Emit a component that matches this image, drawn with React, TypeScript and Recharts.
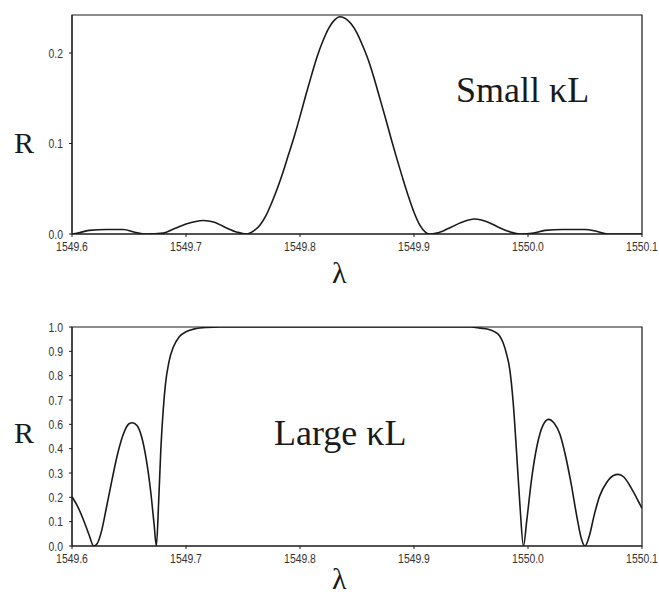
import React from 'react';
import {
  LineChart,
  Line,
  XAxis,
  YAxis,
  ReferenceArea,
} from 'recharts';

// ─── Data ─────────────────────────────────────────────────
const WL_SMALL = [
  1549.600, 1549.605, 1549.615, 1549.630, 1549.645, 1549.655, 1549.665, 1549.680,
  1549.690, 1549.700, 1549.715, 1549.725, 1549.735, 1549.745, 1549.753, 1549.760,
  1549.765, 1549.770, 1549.775, 1549.780, 1549.785, 1549.790, 1549.795, 1549.800,
  1549.805, 1549.810, 1549.815, 1549.820, 1549.825, 1549.830, 1549.835, 1549.840,
  1549.845, 1549.850, 1549.855, 1549.860, 1549.865, 1549.870, 1549.875, 1549.880,
  1549.885, 1549.890, 1549.895, 1549.900, 1549.905, 1549.910, 1549.913, 1549.920,
  1549.930, 1549.942, 1549.953, 1549.965, 1549.975, 1549.985, 1549.993, 1550.005,
  1550.015, 1550.030, 1550.050, 1550.060, 1550.070, 1550.100,
];
const R_SMALL = [
  0.000, 0.001, 0.004, 0.005, 0.005, 0.002, 0.000, 0.001,
  0.006, 0.011, 0.015, 0.013, 0.007, 0.002, 0.000, 0.004,
  0.010, 0.020, 0.034, 0.050, 0.068, 0.088, 0.108, 0.130,
  0.153, 0.175, 0.196, 0.213, 0.227, 0.236, 0.240, 0.238,
  0.232, 0.222, 0.208, 0.192, 0.172, 0.150, 0.128, 0.105,
  0.083, 0.062, 0.042, 0.024, 0.010, 0.002, 0.000, 0.001,
  0.006, 0.013, 0.0165, 0.013, 0.007, 0.002, 0.000, 0.001,
  0.004, 0.005, 0.005, 0.003, 0.000, 0.000,
];

const WL_LARGE = [
  1549.600, 1549.605, 1549.610, 1549.615, 1549.619, 1549.622, 1549.626, 1549.630,
  1549.635, 1549.640, 1549.645, 1549.650, 1549.653, 1549.657, 1549.661, 1549.665,
  1549.669, 1549.672, 1549.674, 1549.676, 1549.678, 1549.680, 1549.682, 1549.685,
  1549.689, 1549.694, 1549.700, 1549.708, 1549.718, 1549.730, 1549.950, 1549.958,
  1549.965, 1549.970, 1549.975, 1549.978, 1549.981, 1549.984, 1549.987, 1549.990,
  1549.993, 1549.996, 1549.999, 1550.003, 1550.008, 1550.013, 1550.018, 1550.023,
  1550.028, 1550.033, 1550.038, 1550.043, 1550.047, 1550.050, 1550.054, 1550.058,
  1550.063, 1550.069, 1550.075, 1550.079, 1550.084, 1550.090, 1550.095, 1550.100,
];
const R_LARGE = [
  0.225, 0.180, 0.120, 0.050, 0.000, 0.010, 0.070, 0.170,
  0.300, 0.420, 0.510, 0.558, 0.563, 0.550, 0.500, 0.400,
  0.250, 0.100, 0.000, 0.200, 0.450, 0.620, 0.740, 0.840,
  0.910, 0.955, 0.978, 0.992, 0.998, 1.000, 1.000, 0.995,
  0.990, 0.980, 0.960, 0.930, 0.880, 0.807, 0.655, 0.426,
  0.180, 0.000, 0.120, 0.300, 0.460, 0.550, 0.578, 0.560,
  0.510, 0.410, 0.280, 0.130, 0.030, 0.000, 0.050, 0.140,
  0.230, 0.290, 0.322, 0.327, 0.315, 0.270, 0.222, 0.172,
];

const X_TICKS = [1549.6, 1549.7, 1549.8, 1549.9, 1550.0, 1550.1];
const X_MIN = 1549.6;
const X_MAX = 1550.1;

const Y_TICKS_SMALL = [0, 0.1, 0.2];
const Y_MAX_SMALL = 0.242;

// the printed axis has ten evenly spaced labels (0.5 is missing in the original)
const Y_LABELS_LARGE = ['0.0', '0.1', '0.2', '0.3', '0.4', '0.6', '0.7', '0.8', '0.9', '1.0'];
const Y_TICKS_LARGE = Y_LABELS_LARGE.map((_, i) => i / (Y_LABELS_LARGE.length - 1));

const smallData = WL_SMALL.map((x, i) => ({ x, r: R_SMALL[i] }));
const largeData = WL_LARGE.map((x, i) => ({ x, r: R_LARGE[i] }));

// ─── Styles ───────────────────────────────────────────────
const INK = '#1a1a1a';
const serif = '"Liberation Serif", "Times New Roman", serif';

function abs(left: number, top: number, size: number): React.CSSProperties {
  return {
    position: 'absolute',
    left,
    top,
    fontFamily: serif,
    fontSize: size,
    color: INK,
    lineHeight: 1,
    whiteSpace: 'nowrap',
  };
}

// condensed tick text, like the old plotting software's narrow font
function narrowTick(side: 'x' | 'y', format: (v: number, i: number) => string) {
  return (props: any) => {
    const { x, y, payload, index } = props;
    return (
      <g transform={`translate(${x},${y}) scale(0.8,1)`}>
        <text
          x={0}
          y={0}
          dy={side === 'x' ? '0.71em' : '0.355em'}
          textAnchor={side === 'x' ? 'middle' : 'end'}
          fontFamily='"Liberation Sans", Arial, sans-serif'
          fontSize={13}
          fill="#333"
        >
          {format(payload.value, index)}
        </text>
      </g>
    );
  };
}

const fixed1 = (v: number) => v.toFixed(1);

interface PanelProps {
  data: { x: number; r: number }[];
  height: number;
  margin: { top: number; right: number; bottom: number; left: number };
  yMax: number;
  yTicks: number[];
  yFormat: (v: number, i: number) => string;
}

function Panel({ data, height, margin, yMax, yTicks, yFormat }: PanelProps) {
  return (
    <LineChart width={659} height={height} data={data} margin={margin}>
      <XAxis
        dataKey="x"
        type="number"
        domain={[X_MIN, X_MAX]}
        ticks={X_TICKS}
        tick={narrowTick('x', fixed1)}
        tickSize={3}
        tickMargin={5}
        height={30}
        stroke={INK}
        interval={0}
        allowDataOverflow
      />
      <YAxis
        type="number"
        domain={[0, yMax]}
        ticks={yTicks}
        tick={narrowTick('y', yFormat)}
        tickSize={3}
        tickMargin={6}
        width={40}
        stroke={INK}
        interval={0}
        allowDataOverflow
      />
      <ReferenceArea
        x1={X_MIN}
        x2={X_MAX}
        y1={0}
        y2={yMax}
        fill="none"
        stroke={INK}
        strokeWidth={1.2}
        ifOverflow="visible"
      />
      <Line
        type="monotone"
        dataKey="r"
        stroke={INK}
        strokeWidth={1.6}
        dot={false}
        isAnimationActive={false}
      />
    </LineChart>
  );
}

export default function App() {
  return (
    <div style={{ position: 'absolute', left: 0, top: 0, width: 659, height: 594, background: '#fff', overflow: 'hidden' }}>
      <div style={{ position: 'absolute', left: 0, top: 0 }}>
        <Panel
          data={smallData}
          height={290}
          margin={{ top: 15, right: 17, bottom: 26, left: 32 }}
          yMax={Y_MAX_SMALL}
          yTicks={Y_TICKS_SMALL}
          yFormat={fixed1}
        />
      </div>
      <div style={{ position: 'absolute', left: 0, top: 290 }}>
        <Panel
          data={largeData}
          height={304}
          margin={{ top: 37, right: 17, bottom: 18, left: 32 }}
          yMax={1}
          yTicks={Y_TICKS_LARGE}
          yFormat={(_v, i) => Y_LABELS_LARGE[i]}
        />
      </div>

      {/* axis titles and annotations */}
      <div style={abs(14, 128, 30)}>R</div>
      <div style={abs(332, 258, 30)}>λ</div>
      <div style={abs(456, 72, 36)}>Small κL</div>

      <div style={abs(14, 418, 30)}>R</div>
      <div style={abs(332, 564, 30)}>λ</div>
      <div style={abs(274, 415, 36)}>Large κL</div>
    </div>
  );
}
